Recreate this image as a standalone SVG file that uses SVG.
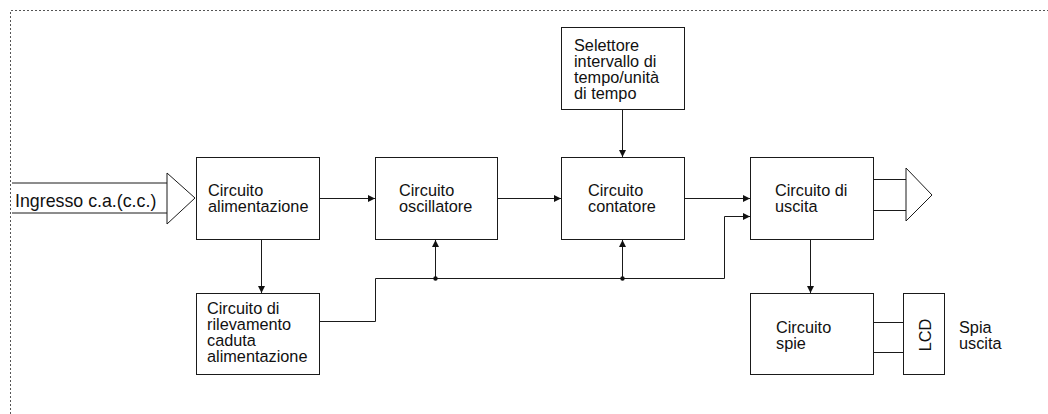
<svg xmlns="http://www.w3.org/2000/svg" width="1048" height="414" viewBox="0 0 1048 414">
<defs>
<style>
.box{fill:#fff;stroke:#1a1a1a;stroke-width:1}
.ln{fill:none;stroke:#1a1a1a;stroke-width:1}
.t{font-family:"Liberation Sans",Arial,sans-serif;font-size:16.3px;fill:#111}
.border{fill:none;stroke:#555;stroke-width:1;stroke-dasharray:2,2}
</style>
<marker id="ah" viewBox="0 0 10 10" refX="10" refY="5" markerWidth="8" markerHeight="7" markerUnits="userSpaceOnUse" orient="auto">
<path d="M0,0 L10,5 L0,10 z" fill="#111"/>
</marker>
</defs>
<rect width="1048" height="414" fill="#fff"/>
<path class="border" d="M10.5,414 V10.5 H1048"/>

<g id="input">
<path class="ln" d="M12,183 H167 M12,213 H167"/>
<polygon class="box" points="167,173 195,198 167,224"/>
<text class="t" x="15" y="207" style="font-size:17.8px">Ingresso c.a.(c.c.)</text>
</g>

<g id="alimentazione">
<rect class="box" x="196.5" y="157.5" width="123" height="82"/>
<text class="t" x="208" y="196">Circuito</text>
<text class="t" x="208" y="212">alimentazione</text>
</g>

<g id="oscillatore">
<rect class="box" x="375.5" y="157.5" width="122" height="82"/>
<text class="t" x="399" y="196">Circuito</text>
<text class="t" x="399" y="212">oscillatore</text>
</g>

<g id="contatore">
<rect class="box" x="561.5" y="157.5" width="123" height="82"/>
<text class="t" x="588" y="196">Circuito</text>
<text class="t" x="588" y="212">contatore</text>
</g>

<g id="selettore">
<rect class="box" x="561.5" y="27.5" width="123" height="82"/>
<text class="t" x="574" y="51">Selettore</text>
<text class="t" x="574" y="67">intervallo di</text>
<text class="t" x="574" y="83">tempo/unità</text>
<text class="t" x="574" y="99">di tempo</text>
</g>

<g id="uscita">
<rect class="box" x="750.5" y="157.5" width="123" height="82"/>
<text class="t" x="775" y="196">Circuito di</text>
<text class="t" x="775" y="212">uscita</text>
<path class="ln" d="M873,179.5 H906 M873,210.5 H906"/>
<polygon class="box" points="906,168 932,195 906,221"/>
</g>

<g id="rilevamento">
<rect class="box" x="196.5" y="293.5" width="123" height="81"/>
<text class="t" x="207" y="314">Circuito di</text>
<text class="t" x="207" y="330">rilevamento</text>
<text class="t" x="207" y="346">caduta</text>
<text class="t" x="207" y="362">alimentazione</text>
</g>

<g id="spie">
<rect class="box" x="750.5" y="293.5" width="123" height="81"/>
<text class="t" x="776" y="333">Circuito</text>
<text class="t" x="776" y="349">spie</text>
</g>

<g id="lcd">
<rect class="box" x="903.5" y="293.5" width="41" height="81"/>
<text class="t" x="0" y="0" text-anchor="middle" transform="translate(931,335) rotate(-90)">LCD</text>
<text class="t" x="959" y="333">Spia</text>
<text class="t" x="959" y="349">uscita</text>
</g>

<g id="connectors">
<path class="ln" d="M319,198.5 H375" marker-end="url(#ah)"/>
<path class="ln" d="M498,198.5 H561" marker-end="url(#ah)"/>
<path class="ln" d="M684,198.5 H750" marker-end="url(#ah)"/>
<path class="ln" d="M622.5,110 V157" marker-end="url(#ah)"/>
<path class="ln" d="M261.5,240 V293" marker-end="url(#ah)"/>
<path class="ln" d="M810.5,240 V293" marker-end="url(#ah)"/>
<path class="ln" d="M320,321.5 H375.5 V278.5 H724.5 V216.5 H750" marker-end="url(#ah)"/>
<path class="ln" d="M435.5,278 V240" marker-end="url(#ah)"/>
<path class="ln" d="M622.5,278 V240" marker-end="url(#ah)"/>
<circle cx="435.5" cy="278.5" r="2.2" fill="#111"/>
<circle cx="622.5" cy="278.5" r="2.2" fill="#111"/>
<path class="ln" d="M873,322.5 H903 M873,352.5 H903"/>
</g>
</svg>
